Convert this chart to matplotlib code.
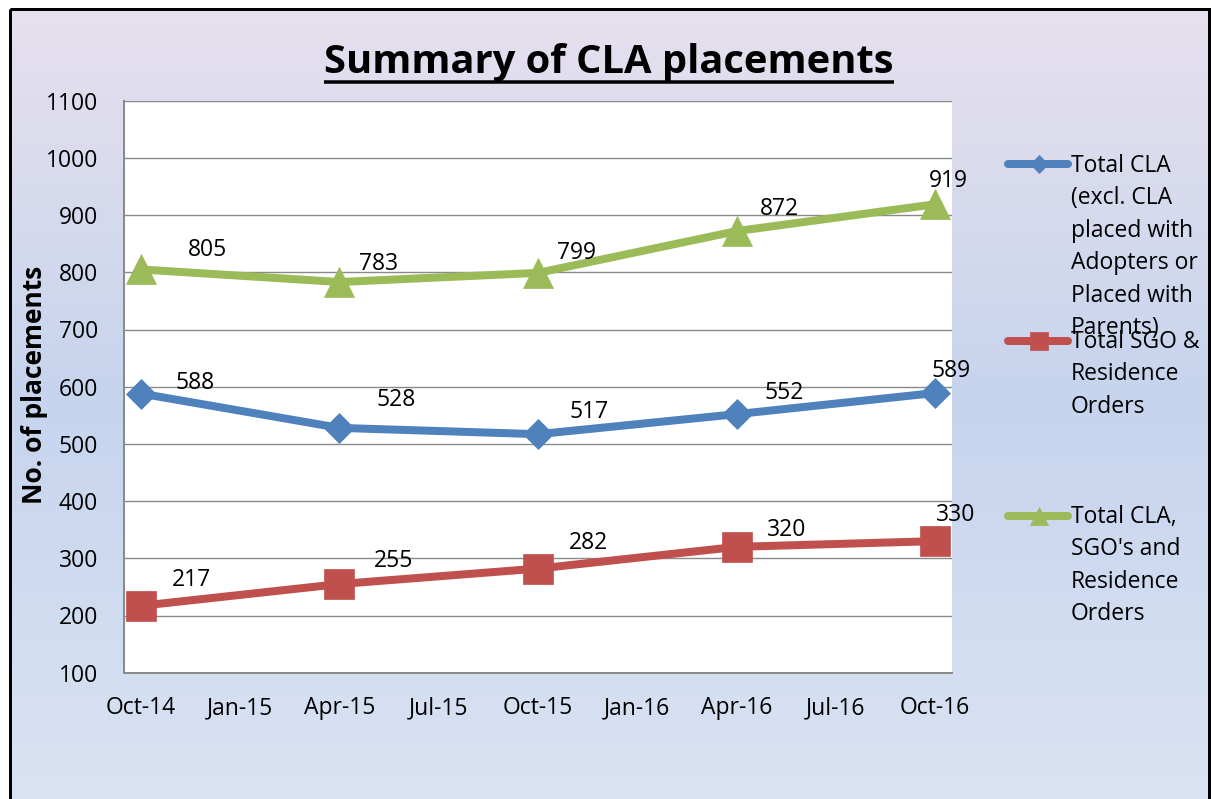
import numpy as np
import pandas as pd
import matplotlib
matplotlib.use("Agg")
import matplotlib.pyplot as plt
from matplotlib.patches import Rectangle
from matplotlib.lines import Line2D

# ---------------- data ----------------
dates = ["Oct-14", "Apr-15", "Oct-15", "Apr-16", "Oct-16"]
total_cla = [588, 528, 517, 552, 589]
total_sgo = [217, 255, 282, 320, 330]
total_all = [805, 783, 799, 872, 919]
tick_labels = ["Oct-14", "Jan-15", "Apr-15", "Jul-15", "Oct-15",
               "Jan-16", "Apr-16", "Jul-16", "Oct-16"]
y_ticks = list(range(100, 1101, 100))
series_names = [
    "Total CLA\n(excl. CLA\nplaced with\nAdopters or\nPlaced with\nParents)",
    "Total SGO &\nResidence\nOrders",
    "Total CLA,\nSGO's and\nResidence\nOrders",
]
title = "Summary of CLA placements"
ylabel = "No. of placements"

# ---------------- layout / style ----------------
W, H = 1211, 799
DPI = 100
PX = 72.0 / DPI  # points per pixel
colors = ["#4F81BD", "#C0504D", "#9BBB59"]
markers = ["D", "s", "^"]
msizes = [15, 21, 22]
leg_msizes = [9, 13, 13]
# label offsets (pixels, dx right, dy up to label centre)
offsets = [
    [(54, 13), (57, 30), (51, 25), (48, 24), (16, 24)],
    [(51, 28), (54, 26), (51, 28), (50, 19), (20, 29)],
    [(67, 22), (39, 21), (39, 22), (43, 25), (13, 26)],
]
FONT = "Open Sans"

def fx(px):
    return px / W

def fy(py):
    return 1 - py / H

fig = plt.figure(figsize=(W / DPI, H / DPI), dpi=DPI)
fig.patch.set_facecolor("white")

# background gradient + border
bg = fig.add_axes([0, 0, 1, 1])
bg.set_xlim(0, W)
bg.set_ylim(H, 0)
bg.axis("off")
stops_pos = [0.0, 0.5, 1.0]
stops_col = np.array([[231, 224, 237], [198, 212, 238], [218, 227, 243]]) / 255.0
t = np.linspace(0, 1, 400)
grad = np.stack([np.interp(t, stops_pos, stops_col[:, k]) for k in range(3)], axis=1)
grad = np.repeat(grad[:, None, :], 2, axis=1)
bg.imshow(grad, extent=[10, 1209, H, 9], aspect="auto", zorder=0)
bg.add_patch(Rectangle((9.5, 8.5), 1199.5, 820, fill=False, ec="black",
                       lw=3 * PX, zorder=1, clip_on=False))

# main axes
left, right, top, bottom = 124.3, 951.7, 100.7, 672.7
ax = fig.add_axes([fx(left), fy(bottom), fx(right - left), (bottom - top) / H])
ax.set_facecolor("white")

d = pd.to_datetime(dates, format="%b-%y")
x = ((d.year - d.year[0]) * 12 + (d.month - d.month[0])).to_numpy()
tick_x = np.arange(0, 3 * len(tick_labels), 3)

series = [total_cla, total_sgo, total_all]
for i, vals in enumerate(series):
    ax.plot(x, vals, color=colors[i], lw=8 * PX, marker=markers[i],
            ms=msizes[i], mec=colors[i], mew=0.5, solid_joinstyle="round",
            solid_capstyle="round", zorder=3 + i, clip_on=False)

for i, vals in enumerate(series):
    for j, v in enumerate(vals):
        dx, dy = offsets[i][j]
        ax.annotate(str(v), (x[j], v), xytext=(dx * PX, (dy - 8.5) * PX),
                    textcoords="offset points", ha="center", va="baseline",
                    fontsize=16.5, family=FONT, color="black", zorder=10,
                    annotation_clip=False)

ax.set_xlim(-0.5, 24.5)
ax.set_ylim(100, 1100)
ax.set_yticks(y_ticks)
ax.set_xticks(tick_x)
ax.set_xticklabels(tick_labels)
ax.tick_params(axis="both", length=0, labelsize=16.5)
ax.tick_params(axis="y", pad=19)
ax.tick_params(axis="x", pad=17)
for lab in ax.get_xticklabels() + ax.get_yticklabels():
    lab.set_family(FONT)
ax.grid(axis="y", color="#8a8a8a", lw=1.4 * PX)
ax.set_axisbelow(True)
for s in ["top", "right"]:
    ax.spines[s].set_visible(False)
for s in ["left", "bottom"]:
    ax.spines[s].set_color("#8a8a8a")
    ax.spines[s].set_linewidth(2 * PX)

# title with underline
tt = fig.text(fx(609), fy(73), title, ha="center", va="baseline",
              fontsize=28.7, fontweight="bold", family=FONT)
fig.canvas.draw()
bb = tt.get_window_extent()
bg.plot([bb.x0, bb.x1], [81.5, 81.5], color="black", lw=3.5 * PX,
        solid_capstyle="butt", zorder=2)

# y label
fig.text(fx(35), fy(385), ylabel, rotation=90, ha="center", va="center",
         fontsize=19, fontweight="bold", family=FONT)

# legend (manual, Excel-like)
handle_y = [164.3, 340.7, 516.0]
first_base = [172.0, 348.0, 523.0]
pitch = 32.4
for i in range(3):
    hy = handle_y[i]
    bg.add_line(Line2D([1008, 1068], [hy, hy], color=colors[i], lw=8 * PX,
                       solid_capstyle="round", zorder=3))
    bg.add_line(Line2D([1039], [hy], color=colors[i], marker=markers[i],
                       ms=leg_msizes[i], mec=colors[i], mew=0.5, ls="none",
                       zorder=4))
    for k, line in enumerate(series_names[i].split("\n")):
        bg.text(1071, first_base[i] + k * pitch, line, ha="left",
                va="baseline", fontsize=16.5, family=FONT, zorder=5)

fig.savefig("out.png", dpi=DPI)
